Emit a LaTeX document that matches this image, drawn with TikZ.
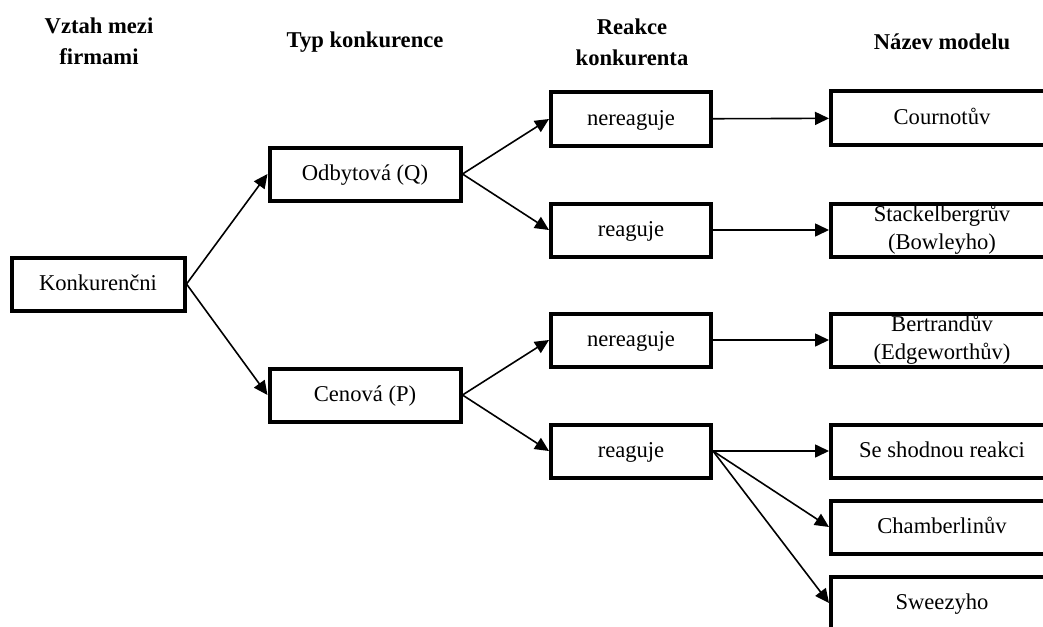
\documentclass[tikz,border=0pt]{standalone}
\usepackage{fontspec}
\setmainfont{Liberation Serif}
\usetikzlibrary{arrows.meta, positioning}

\begin{document}
\begin{tikzpicture}[x=0.5pt, y=-0.5pt,
    box/.style={rectangle, draw, line width=2pt, minimum height=26.5pt, inner sep=0pt,
                text centered, align=center, font=\fontsize{11.3}{14}\selectfont},
    oneline/.style={text height=8pt, text depth=1.2pt},
    head/.style={align=center, font=\fontsize{11.3}{15.5}\selectfont\bfseries},
    link/.style={-{Triangle[length=7pt, width=6.5pt]}, line width=0.8pt}
]
    \useasboundingbox (0,0) rectangle (1043,626);

    % Column headings
    \node[head] (h1) at (99,41)  {Vztah mezi\\firmami};
    \node[head] (h2) at (365,42) {Typ konkurence};
    \node[head] (h3) at (632,42) {Reakce\\konkurenta};
    \node[head] (h4) at (942,42) {Název modelu};

    % Relation between firms
    \node[box, oneline, minimum width=86.5pt] (konk) at (98,284) {Konkurenčni};

    % Type of competition
    \node[box, oneline, minimum width=95.5pt] (odb) at (365,174) {Odbytová (Q)};
    \node[box, oneline, minimum width=95.5pt] (cen) at (365,395) {Cenová (P)};

    % Reaction of the competitor
    \node[box, oneline, minimum width=80pt] (ner1) at (631,119) {nereaguje};
    \node[box, oneline, minimum width=80pt] (rea1) at (631,230) {reaguje};
    \node[box, oneline, minimum width=80pt] (ner2) at (631,340) {nereaguje};
    \node[box, oneline, minimum width=80pt] (rea2) at (631,451) {reaguje};

    % Model names
    \node[box, oneline, minimum width=111pt] (cour) at (942,118) {Cournotův};
    \node[box, minimum width=111pt] (stack) at (942,230) {Stackelbergrův\\(Bowleyho)};
    \node[box, minimum width=111pt] (bert) at (942,340) {Bertrandův\\(Edgeworthův)};
    \node[box, oneline, minimum width=111pt] (shod) at (942,451) {Se shodnou reakci};
    \node[box, oneline, minimum width=111pt] (cham) at (942,527) {Chamberlinův};
    \node[box, oneline, minimum width=111pt] (swee) at (942,603) {Sweezyho};

    % Arrows
    \draw[link] (konk.east) -- (odb.west);
    \draw[link] (konk.east) -- (cen.west);
    \draw[link] (odb.east) -- (ner1.west);
    \draw[link] (odb.east) -- (rea1.west);
    \draw[link] (cen.east) -- (ner2.west);
    \draw[link] (cen.east) -- (rea2.west);
    \draw[link] (ner1) -- (cour);
    \draw[link] (rea1) -- (stack);
    \draw[link] (ner2) -- (bert);
    \draw[link] (rea2.east) -- (shod.west);
    \draw[link] (rea2.east) -- (cham.west);
    \draw[link] (rea2.east) -- (swee.west);
\end{tikzpicture}
\end{document}
